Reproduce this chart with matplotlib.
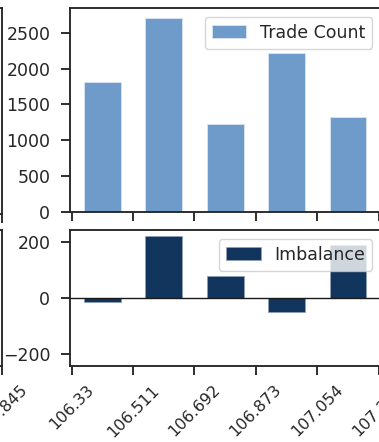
import matplotlib
matplotlib.use("Agg")
import matplotlib.pyplot as plt
import numpy as np

# Price bins (edges) and per-bin statistics
bin_edges = [106.33, 106.511, 106.692, 106.873, 107.054, 107.235]
edge_labels = ["106.33", "106.511", "106.692", "106.873", "107.054", "107.235"]
trade_count = [1815, 2708, 1230, 2223, 1318]
imbalance = [-14, 221, 80, -51, 190]

# neighbouring panel (only its right edge falls inside the figure)
left_panel_edge = [105.845]
left_panel_label = ["105.845"]

count_color = "#6f9bca"
imb_color = "#12355d"
ink = "#262626"

W, H = 379, 442
plt.rcParams.update({
    "font.family": "DejaVu Sans",
    "font.size": 12,
    "text.color": ink,
    "axes.edgecolor": ink,
    "axes.linewidth": 1.35,
    "xtick.color": ink,
    "ytick.color": ink,
    "xtick.major.size": 6.7,
    "ytick.major.size": 6.7,
    "xtick.major.width": 1.35,
    "ytick.major.width": 1.35,
    "xtick.major.pad": 5.0,
    "ytick.major.pad": 7.5,
    "xtick.labelsize": 11.5,
    "ytick.labelsize": 12.5,
    "legend.fontsize": 12.5,
})

fig = plt.figure(figsize=(W / 100, H / 100), dpi=100)


def px_axes(x0, x1, y_top, y_bot):
    return fig.add_axes([x0 / W, 1 - y_bot / H, (x1 - x0) / W, (y_bot - y_top) / H])


edges = np.array(bin_edges)
centers = (edges[:-1] + edges[1:]) / 2
bw = edges[1] - edges[0]
xlim = (106.325, 107.242)

# --- main panel: trade count ---
ax1 = px_axes(70, 381, 8, 212)
ax1.bar(centers, trade_count, width=0.6 * bw, color=count_color,
        edgecolor="#dce6f2", linewidth=0.6, label="Trade Count")
ax1.set_xlim(*xlim)
ax1.set_xticks(edges)
ax1.set_xticklabels([])
ax1.set_yticks([0, 500, 1000, 1500, 2000, 2500])
ax1.legend(loc="upper right", borderaxespad=0.5)

# --- main panel: imbalance ---
ax2 = px_axes(70, 381, 230, 366)
ax2.bar(centers, imbalance, width=0.6 * bw, color=imb_color,
        edgecolor="#8ea0b8", linewidth=0.5, label="Imbalance")
ax2.axhline(0, color="#1a1a1a", linewidth=1.0, zorder=1)
ax2.set_xlim(*xlim)
ax2.set_ylim(-242, 242)
ax2.set_yticks([-200, 0, 200])
ax2.set_xticks(edges)
ax2.set_xticklabels(edge_labels, rotation=45, ha="center")
ax2.legend(loc="upper right", borderaxespad=0.5)

# --- neighbouring panel on the left ---
for (yt, yb), labelled in (((8, 214), False), ((230, 366), True)):
    axl = px_axes(-320, 1.5, yt, yb)
    axl.set_xlim(105.0, left_panel_edge[0])
    axl.set_xticks(left_panel_edge)
    axl.set_xticklabels(left_panel_label if labelled else [], rotation=45, ha="center")
    axl.set_yticks([])

fig.savefig("out.png", dpi=100)
